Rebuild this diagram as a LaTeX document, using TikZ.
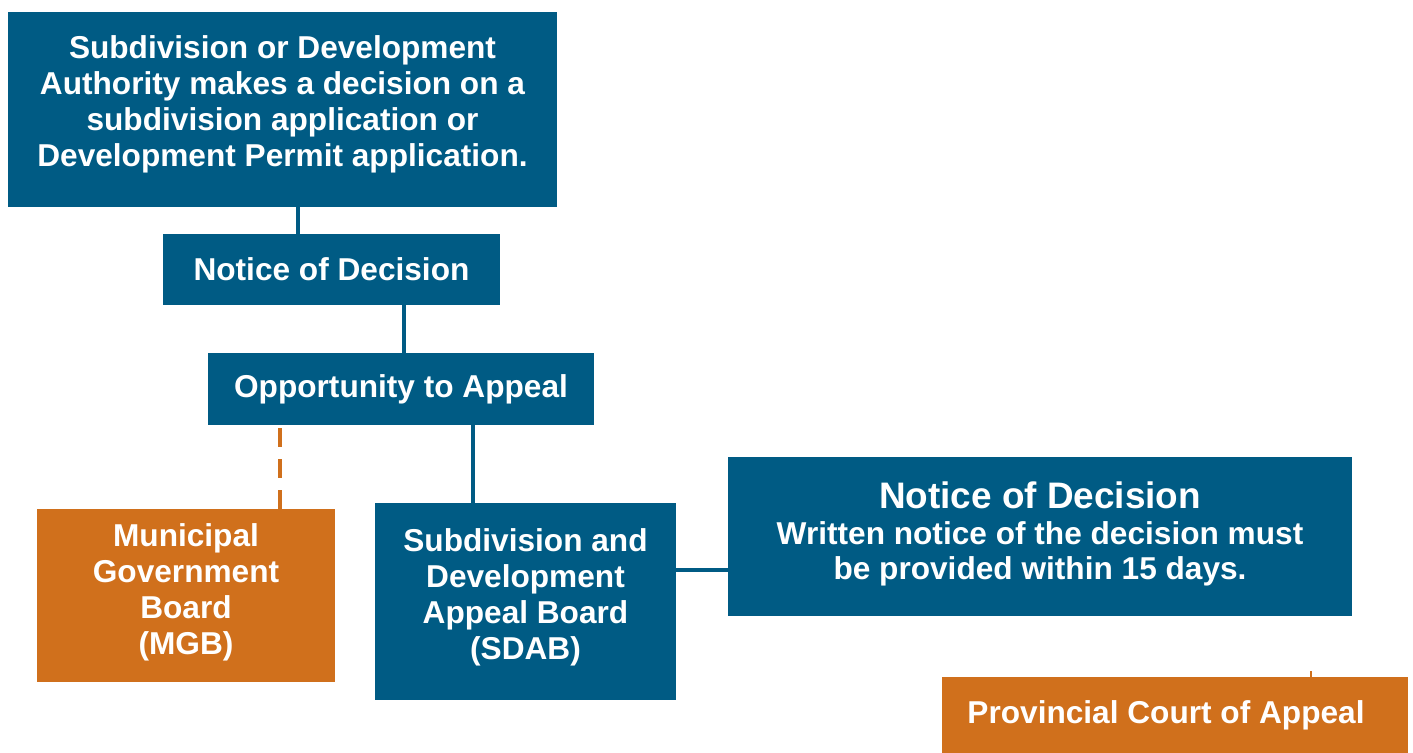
\documentclass[tikz,border=0pt]{standalone}
\usepackage{fontspec}
\setmainfont{Liberation Sans}
\definecolor{boardblue}{HTML}{005B84}
\definecolor{boardorange}{HTML}{D0701C}
\begin{document}
\begin{tikzpicture}[x=0.02cm, y=-0.02cm, main/.style = {fill=boardblue, text=white, font=\bfseries\fontsize{18}{20.4}\selectfont, align=center, inner sep=0pt}, side/.style = {main, fill=boardorange}, link/.style = {draw=boardblue, line width=2.4pt}, sidelink/.style = {draw=boardorange, line width=2.8pt}]
\useasboundingbox (0,0) rectangle (1413,753);
\node[main, minimum width=10.98cm, minimum height=3.9cm, text depth=9.5pt] (1) at (282.5,109.5) {Subdivision or Development\\Authority makes a decision on a\\subdivision application or\\Development Permit application.};
\node[main, minimum width=6.74cm, minimum height=1.42cm] (2) at (331.5,269.5) {Notice of Decision};
\node[main, minimum width=7.72cm, minimum height=1.44cm] (3) at (401,389) {Opportunity to Appeal};
\node[side, minimum width=5.96cm, minimum height=3.46cm, text depth=7.2pt] (4) at (186,595.5) {Municipal\\Government\\Board\\(MGB)};
\node[main, minimum width=6.02cm, minimum height=3.94cm, text depth=8.4pt] (5) at (525.5,601.5) {Subdivision and\\Development\\Appeal Board\\(SDAB)};
\node[main, minimum width=12.48cm, minimum height=3.18cm, text depth=6.6pt] (6) at (1040,536.5) {{\fontsize{21}{24}\selectfont Notice of Decision}\\Written notice of the decision must\\be provided within 15 days.};
\node[side, minimum width=9.32cm, minimum height=1.52cm] (7) at (1175,715) {Provincial Court of Appeal\hspace*{0.36cm}};
\coordinate (tick) at (1311,671);
\draw[link] (1.south -| 298,0) -- (2.north -| 298,0);
\draw[link] (2.south -| 404,0) -- (3.north -| 404,0);
\draw[sidelink, dash pattern=on 10.8pt off 6.8pt] (4.north -| 280,0) -- (3.south -| 280,0);
\draw[link] (3.south -| 473,0) -- (5.north -| 473,0);
\draw[link, line width=2.8pt] (5.east |- 0,570) -- (6.west |- 0,570);
\draw[sidelink, line width=1.5pt] (tick) -- (7.north -| tick);
\end{tikzpicture}
\end{document}
